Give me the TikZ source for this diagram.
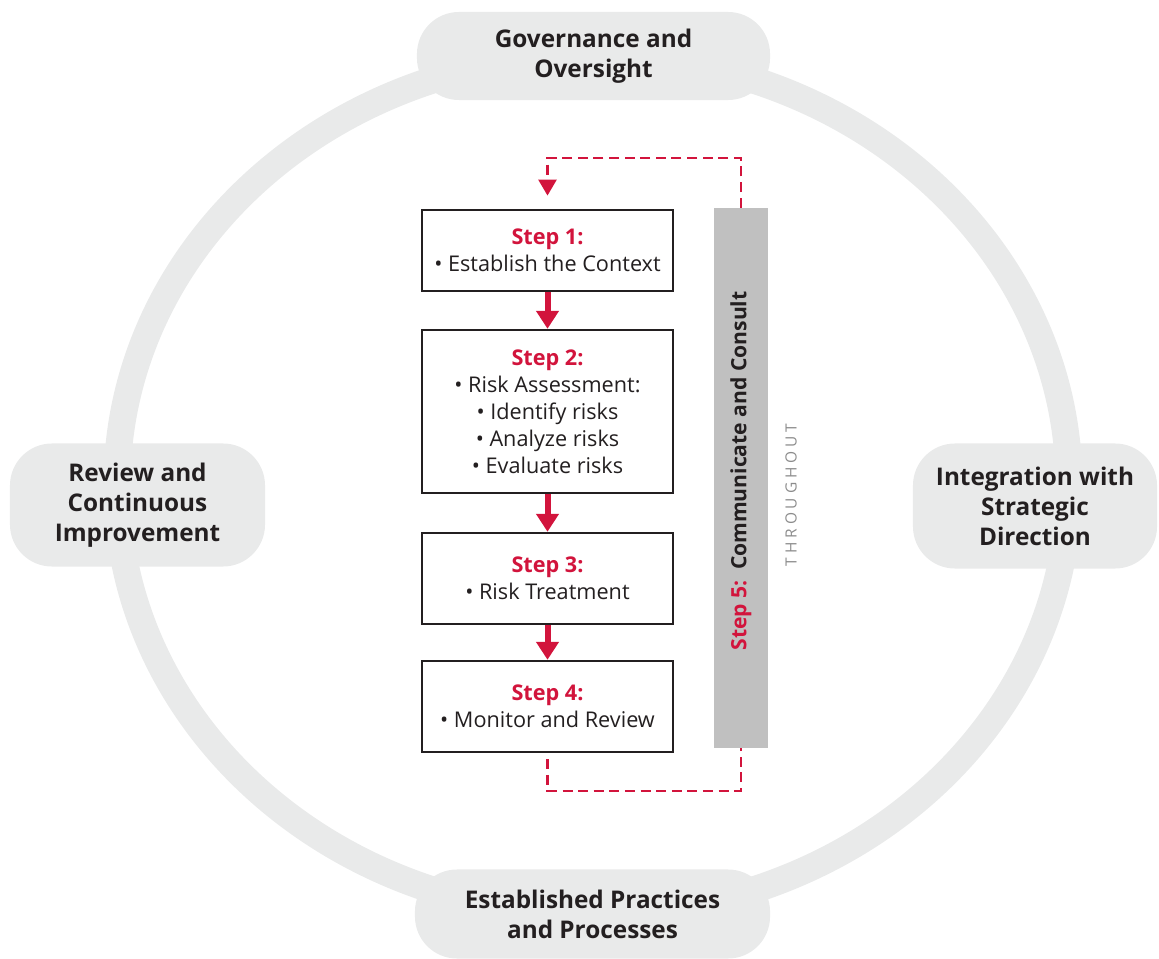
\documentclass[tikz,border=0pt]{standalone}
\usepackage{fontspec}
\setmainfont{Open Sans}
\usetikzlibrary{arrows.meta}
\definecolor{stepred}{RGB}{210,20,60}
\definecolor{ringgray}{RGB}{233,234,234}
\definecolor{bargray}{RGB}{192,192,192}
\definecolor{thrugray}{RGB}{140,140,140}
\definecolor{ink}{RGB}{35,31,32}
\tikzset{
  pill/.style={fill=ringgray, rounded corners=1.05cm, align=center, text=ink,
    font=\bfseries\fontsize{17.3}{21.3}\selectfont},
  stepbox/.style={draw=ink, line width=1.7pt, fill=white, minimum width=6.275cm,
    align=center, text=ink, font=\fontsize{15.4}{19.2}\selectfont},
  stepflow/.style={stepred, line width=0.15cm, -{Triangle[width=0.55cm,length=0.45cm]}},
  dashloop/.style={stepred, line width=1.9pt, dash pattern=on 0.25cm off 0.14cm},
}
\newcommand{\steplabel}[1]{{\bfseries\color{stepred}Step #1:}}

\begin{document}
\begin{tikzpicture}[x=0.025cm, y=-0.025cm]
  \useasboundingbox (0,0) rectangle (1159,959);
  \draw[ringgray, line width=0.675cm] (593,485) ellipse [x radius=476, y radius=430];

  \node[pill, minimum width=8.825cm, minimum height=2.2cm] (Gov) at (593.5,56) {Governance and\\Oversight};
  \node[pill, minimum width=6.375cm, minimum height=3.075cm] (Rev) at (137.5,505) {Review and\\Continuous\\Improvement};
  \node[pill, minimum width=6.1cm, minimum height=3.125cm] (Int) at (1035,506) {Integration with\\Strategic\\Direction};
  \node[pill, minimum width=8.875cm, minimum height=2.225cm] (Est) at (592.5,914) {Established Practices\\and Processes};

  \node[stepbox, minimum height=2.025cm] (S1) at (547.5,250.5) {\steplabel{1}\\\textbullet\ Establish the Context};
  \node[stepbox, minimum height=4.075cm] (S2) at (547.5,411.5) {\steplabel{2}\\\textbullet\ Risk Assessment:\\\textbullet\ Identify risks\\\textbullet\ Analyze risks\\\textbullet\ Evaluate risks};
  \node[stepbox, minimum height=2.275cm] (S3) at (547.5,578.5) {\steplabel{3}\\\textbullet\ Risk Treatment};
  \node[stepbox, minimum height=2.275cm] (S4) at (547.5,706.5) {\steplabel{4}\\\textbullet\ Monitor and Review};

  \node[fill=bargray, minimum width=1.35cm, minimum height=13.5cm, inner sep=0pt] (Bar) at (741,478) {};
  \node[rotate=90, text=ink, font=\bfseries\fontsize{15}{19}\selectfont] (Comm) at (741,471) {\steplabel{5}\enspace Communicate and Consult};
  \node[rotate=90, text=thrugray, font=\fontsize{11}{13}\selectfont\addfontfeature{LetterSpace=25}] (Thru) at (791,495) {THROUGHOUT};

  \path[stepflow] (S1) edge (S2);
  \path[stepflow] (S2) edge (S3);
  \path[stepflow] (S3) edge (S4);

  \coordinate (TopTurn) at (645,158);
  \coordinate (BotTurn) at (645,791);
  \draw[dashloop, -{Triangle[width=0.45cm,length=0.4cm]}, shorten >=0.33cm] (Bar.north) |- (TopTurn) -| (S1.north);
  \draw[dashloop, shorten <=0.15cm] (S4.south) |- (BotTurn) -| (Bar.south);
\end{tikzpicture}
\end{document}
